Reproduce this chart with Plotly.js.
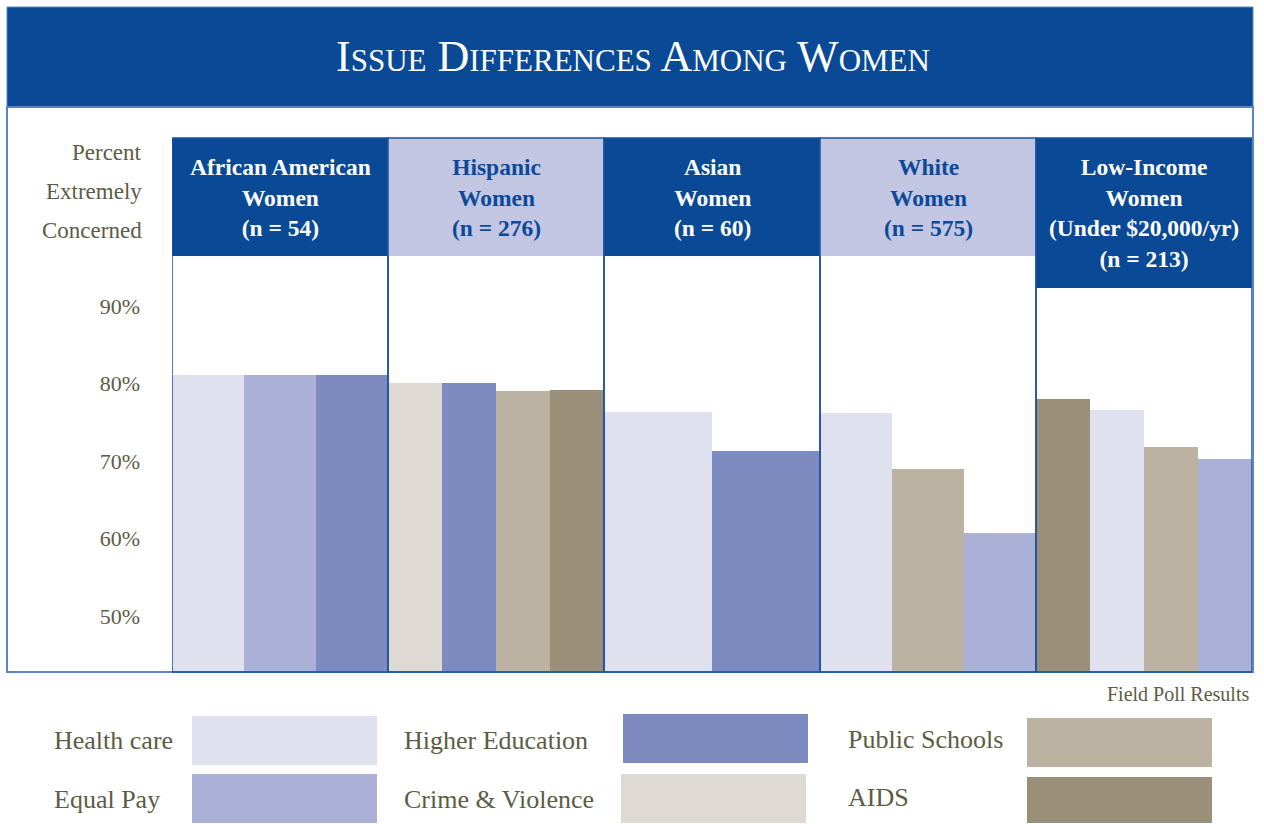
<!DOCTYPE html>
<html>
<head>
<meta charset="utf-8">
<script src="https://cdn.plot.ly/plotly-3.0.1.min.js"></script>
<style>html,body{margin:0;padding:0;background:#fff;}#chart{width:1264px;height:824px;}</style>
</head>
<body>
<div id="chart"></div>
<script>
// ---- data ----
const groups = ["African American<br>Women<br>(n = 54)", "Hispanic<br>Women<br>(n = 276)", "Asian<br>Women<br>(n = 60)", "White<br>Women<br>(n = 575)", "Low-Income<br>Women<br>(Under $20,000/yr)<br>(n = 213)"];
const issues = ["Health care", "Equal Pay", "Higher Education", "Crime & Violence", "Public Schools", "AIDS"];
// bar order inside each group (left to right)
const groupOrder = [
  ["Health care", "Equal Pay", "Higher Education"],
  ["Crime & Violence", "Higher Education", "Public Schools", "AIDS"],
  ["Health care", "Higher Education"],
  ["Health care", "Public Schools", "Equal Pay"],
  ["AIDS", "Health care", "Public Schools", "Equal Pay"]
];
// percent extremely concerned, per group (null = not shown)
const healthCare      = [81.1, null, 76.3, 76.2, 76.6];
const equalPay        = [81.1, null, null, 60.7, 70.3];
const higherEducation = [81.1, 80.1, 71.3, null, null];
const crimeViolence   = [null, 80.1, null, null, null];
const publicSchools   = [null, 79.0, null, 69.0, 71.8];
const aids            = [null, 79.2, null, null, 78.0];
const tickVals = [50, 60, 70, 80, 90];
const tickText = ["50%", "60%", "70%", "80%", "90%"];

const values = {"Health care": healthCare, "Equal Pay": equalPay, "Higher Education": higherEducation,
  "Crime & Violence": crimeViolence, "Public Schools": publicSchools, "AIDS": aids};
const colors = {"Health care": "#dfe1ef", "Equal Pay": "#abb1d6", "Higher Education": "#7e8bc0",
  "Crime & Violence": "#dedad3", "Public Schools": "#bbb2a1", "AIDS": "#9a8f78"};

// ---- geometry helpers (pixels -> paper) ----
const W = 1264, H = 824;
const mL = 172, mR = 12, mT = 138, mB = 152;
const pw = W - mL - mR, ph = H - mT - mB;
const px = x => (x - mL) / pw;
const py = y => (H - mB - y) / ph;

// ---- traces ----
const traces = issues.map(issue => {
  const xs = [], ys = [], ws = [];
  groups.forEach((g, gi) => {
    const order = groupOrder[gi];
    const k = order.indexOf(issue);
    const v = values[issue][gi];
    if (k >= 0 && v !== null) {
      const n = order.length;
      xs.push(gi + (k + 0.5) / n);
      ys.push(v);
      ws.push(1 / n);
    }
  });
  return {type: "bar", name: issue, x: xs, y: ys, width: ws,
    marker: {color: colors[issue], line: {width: 0}}, showlegend: false, hoverinfo: "name+y"};
});

const darkBlue = "#094996";
const lightHead = "#c2c6e2";
const olive = "#5c5c44";
const serif = "Liberation Serif";

const shapes = [];
const annotations = [];

// banner
shapes.push({type: "rect", xref: "paper", yref: "paper", x0: px(7), x1: px(1253), y0: py(107), y1: py(7),
  fillcolor: darkBlue, line: {color: "#5a86c4", width: 1}, layer: "below"});
// outer frame
shapes.push({type: "rect", xref: "paper", yref: "paper", x0: px(7), x1: px(1253), y0: py(672), y1: py(107),
  fillcolor: "rgba(0,0,0,0)", line: {color: "#5a86c4", width: 2}, layer: "above"});

// panel headers & borders
const headerBottoms = [256, 256, 256, 256, 288];
groups.forEach((g, gi) => {
  const dark = gi % 2 === 0;
  shapes.push({type: "rect", xref: "x", yref: "paper", x0: gi, x1: gi + 1, y0: py(headerBottoms[gi]), y1: 1,
    fillcolor: dark ? darkBlue : lightHead, line: {width: 0}, layer: "above"});
  shapes.push({type: "rect", xref: "x", yref: "paper", x0: gi, x1: gi + 1, y0: 0, y1: 1,
    fillcolor: "rgba(0,0,0,0)", line: {color: "#1d52a0", width: 1.5}, layer: "above"});
  annotations.push({xref: "x", yref: "paper", x: gi + 0.5, y: py(152), yanchor: "top", showarrow: false,
    text: "<b>" + g + "</b>", align: "center",
    font: {family: serif, size: 23.5, color: dark ? "#ffffff" : "#0c4a99"}});
});

// title
annotations.push({xref: "paper", yref: "paper", x: px(633), y: py(56), xanchor: "center", yanchor: "middle",
  showarrow: false, text: "Issue Differences Among Women",
  font: {family: serif, size: 44, color: "#ffffff", variant: "small-caps"}});

// y-axis label lines
["Percent", "Extremely", "Concerned"].forEach((t, i) => {
  annotations.push({xref: "paper", yref: "paper", x: px(144), y: py(153 + i * 38.5), xanchor: "right", yanchor: "middle",
    showarrow: false, text: t, font: {family: serif, size: 23, color: olive}});
});

// source
annotations.push({xref: "paper", yref: "paper", x: px(1251), y: py(694), xanchor: "right", yanchor: "middle",
  showarrow: false, text: "Field Poll Results", font: {family: serif, size: 20, color: olive}});

// custom legend
const legendItems = [
  {issue: "Health care", tx: 52, ty: 740, bx0: 192, bx1: 377, by0: 716, by1: 765},
  {issue: "Equal Pay", tx: 52, ty: 799, bx0: 192, bx1: 377, by0: 774, by1: 823},
  {issue: "Higher Education", tx: 402, ty: 740, bx0: 623, bx1: 808, by0: 714, by1: 763},
  {issue: "Crime & Violence", tx: 402, ty: 799, bx0: 621, bx1: 806, by0: 774, by1: 823},
  {issue: "Public Schools", tx: 846, ty: 739, bx0: 1027, bx1: 1212, by0: 718, by1: 767},
  {issue: "AIDS", tx: 846, ty: 797, bx0: 1027, bx1: 1212, by0: 777, by1: 823}
];
legendItems.forEach(it => {
  shapes.push({type: "rect", xref: "paper", yref: "paper", x0: px(it.bx0), x1: px(it.bx1), y0: py(it.by1), y1: py(it.by0),
    fillcolor: colors[it.issue], line: {width: 0}});
  annotations.push({xref: "paper", yref: "paper", x: px(it.tx), y: py(it.ty), xanchor: "left", yanchor: "middle",
    showarrow: false, text: it.issue.replace("&", "&amp;"), font: {family: serif, size: 26, color: olive}});
});

const layout = {
  width: W, height: H,
  margin: {l: mL, r: mR, t: mT, b: mB, pad: 0},
  paper_bgcolor: "#ffffff", plot_bgcolor: "#ffffff",
  barmode: "overlay", bargap: 0,
  showlegend: false,
  xaxis: {range: [0, groups.length], showgrid: false, zeroline: false, showticklabels: false, ticks: "", fixedrange: true},
  yaxis: {range: [42.77, 111.68], showgrid: false, zeroline: false, tickvals: tickVals, ticktext: tickText,
    ticks: "", ticklabelstandoff: 31, tickfont: {family: serif, size: 22, color: olive}, fixedrange: true},
  shapes: shapes,
  annotations: annotations
};

Plotly.newPlot("chart", traces, layout, {displayModeBar: false, staticPlot: true});
</script>
</body>
</html>
